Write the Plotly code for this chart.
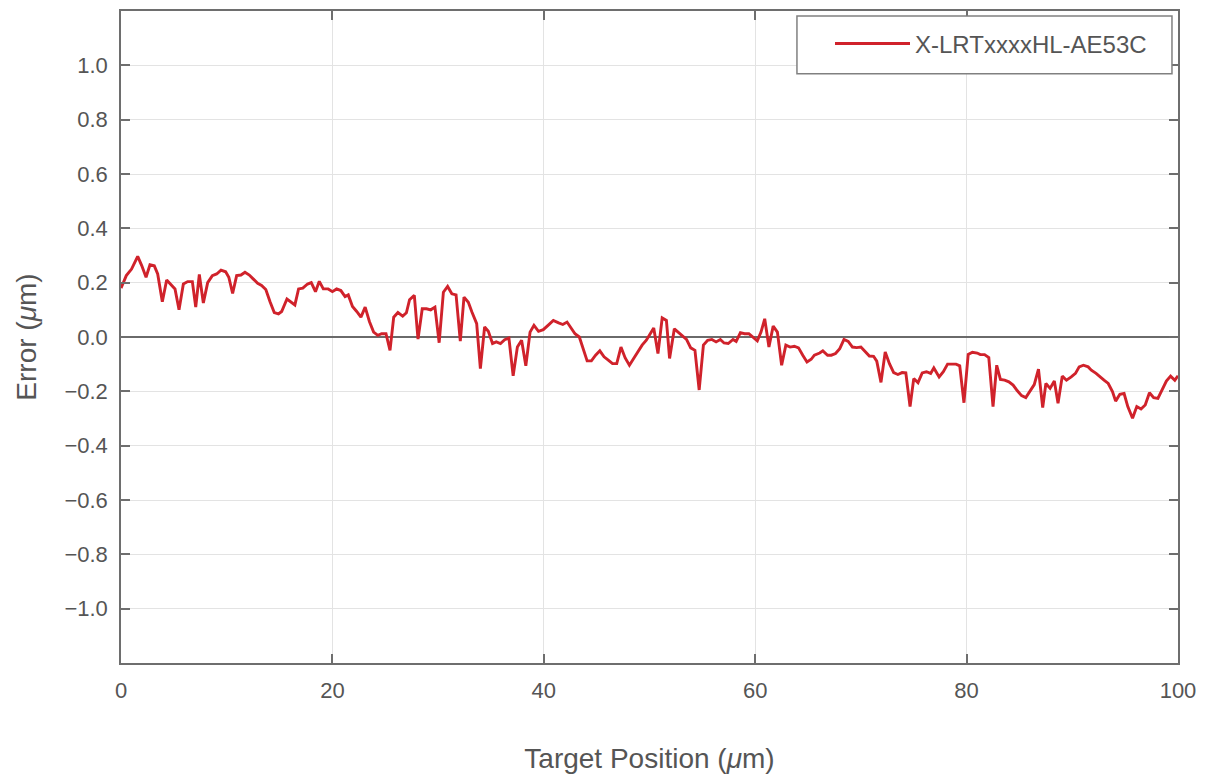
import plotly.graph_objects as go

position_um = [
    0.0, 0.5, 1.0, 1.58, 1.96, 2.37, 2.74, 3.15, 3.47, 3.91, 4.32, 4.8, 5.11, 5.49, 5.9, 6.31, 6.75, 7.07, 7.41, 7.79,
    8.2, 8.64, 9.05, 9.46, 9.9, 10.2, 10.56, 10.94, 11.35, 11.73, 12.14, 12.5, 12.93, 13.3, 13.7, 14.1, 14.5, 14.9, 15.2, 15.7,
    16.1, 16.45, 16.8, 17.2, 17.65, 18.0, 18.4, 18.76, 19.14, 19.6, 20.0, 20.4, 20.8, 21.2, 21.5, 21.9, 22.3, 22.7, 23.1, 23.5,
    23.9, 24.3, 24.66, 25.07, 25.45, 25.8, 26.2, 26.65, 27.0, 27.3, 27.75, 28.1, 28.5, 28.9, 29.3, 29.7, 30.1, 30.5, 30.9, 31.3,
    31.7, 32.1, 32.45, 32.86, 33.2, 33.65, 34.0, 34.4, 34.75, 35.15, 35.5, 35.9, 36.3, 36.7, 37.1, 37.5, 37.9, 38.3, 38.7, 39.07,
    39.5, 39.95, 40.4, 40.9, 41.4, 41.8, 42.2, 42.55, 42.95, 43.36, 43.7, 44.1, 44.5, 44.9, 45.3, 45.7, 46.1, 46.5, 46.9, 47.3,
    47.7, 48.1, 48.5, 48.9, 49.3, 49.7, 50.05, 50.4, 50.8, 51.2, 51.6, 51.9, 52.35, 52.7, 53.1, 53.5, 53.9, 54.3, 54.7, 55.1,
    55.5, 55.9, 56.3, 56.7, 57.05, 57.45, 57.9, 58.2, 58.6, 59.0, 59.4, 59.8, 60.2, 60.55, 60.9, 61.3, 61.7, 62.1, 62.5, 62.9,
    63.3, 63.7, 64.1, 64.5, 64.9, 65.3, 65.6, 66.1, 66.4, 66.85, 67.2, 67.6, 68.0, 68.4, 68.8, 69.2, 69.6, 70.0, 70.4, 70.8,
    71.2, 71.5, 71.9, 72.3, 72.7, 73.1, 73.5, 73.9, 74.25, 74.65, 75.0, 75.4, 75.8, 76.2, 76.6, 76.9, 77.4, 77.8, 78.2, 78.6,
    79.0, 79.35, 79.75, 80.15, 80.55, 81.0, 81.3, 81.7, 82.1, 82.5, 82.85, 83.2, 83.6, 84.0, 84.4, 84.8, 85.2, 85.6, 86.0, 86.4,
    86.8, 87.2, 87.5, 87.9, 88.3, 88.65, 89.05, 89.45, 89.9, 90.3, 90.65, 91.05, 91.5, 91.8, 92.25, 92.6, 93.0, 93.4, 93.8, 94.1,
    94.5, 94.9, 95.25, 95.7, 96.1, 96.5, 96.9, 97.3, 97.7, 98.1, 98.5, 98.9, 99.3, 99.7, 100.0,
]

error_um = [
    0.18, 0.226, 0.25, 0.297, 0.263, 0.22, 0.266, 0.262, 0.232, 0.13, 0.21, 0.19, 0.177, 0.10, 0.195, 0.204, 0.204, 0.11, 0.23, 0.125,
    0.2, 0.226, 0.232, 0.246, 0.24, 0.22, 0.16, 0.226, 0.228, 0.238, 0.228, 0.214, 0.198, 0.19, 0.175, 0.13, 0.09, 0.085, 0.094, 0.14,
    0.128, 0.118, 0.177, 0.18, 0.195, 0.2, 0.167, 0.205, 0.177, 0.177, 0.167, 0.177, 0.171, 0.149, 0.155, 0.112, 0.094, 0.073, 0.11, 0.057,
    0.018, 0.006, 0.012, 0.012, -0.049, 0.073, 0.09, 0.077, 0.089, 0.137, 0.153, -0.008, 0.104, 0.104, 0.1, 0.11, -0.021, 0.165, 0.186, 0.159,
    0.155, -0.015, 0.147, 0.128, 0.092, 0.049, -0.116, 0.037, 0.021, -0.024, -0.018, -0.024, -0.01, -0.004, -0.143, -0.037, -0.012, -0.106, 0.018, 0.043,
    0.021, 0.027, 0.043, 0.061, 0.052, 0.046, 0.055, 0.033, 0.012, 0.0, -0.043, -0.088, -0.088, -0.067, -0.051, -0.073, -0.085, -0.098, -0.098, -0.037,
    -0.077, -0.104, -0.079, -0.055, -0.03, -0.012, 0.012, 0.033, -0.061, 0.07, 0.061, -0.079, 0.03, 0.018, 0.004, -0.009, -0.04, -0.049, -0.195, -0.03,
    -0.012, -0.009, -0.018, -0.009, -0.022, -0.024, -0.009, -0.016, 0.016, 0.012, 0.012, 0.0, -0.014, 0.018, 0.067, -0.037, 0.04, 0.018, -0.104, -0.03,
    -0.037, -0.034, -0.04, -0.067, -0.092, -0.082, -0.067, -0.059, -0.051, -0.067, -0.067, -0.061, -0.043, -0.009, -0.016, -0.037, -0.039, -0.037, -0.052, -0.07,
    -0.071, -0.089, -0.167, -0.055, -0.098, -0.131, -0.138, -0.131, -0.132, -0.256, -0.153, -0.168, -0.132, -0.128, -0.134, -0.114, -0.147, -0.128, -0.1, -0.1,
    -0.1, -0.106, -0.242, -0.064, -0.056, -0.059, -0.065, -0.065, -0.076, -0.256, -0.104, -0.156, -0.159, -0.165, -0.177, -0.198, -0.216, -0.223, -0.201, -0.175,
    -0.118, -0.26, -0.171, -0.189, -0.162, -0.244, -0.144, -0.159, -0.147, -0.134, -0.11, -0.104, -0.11, -0.122, -0.134, -0.147, -0.159, -0.171, -0.201, -0.236,
    -0.211, -0.208, -0.256, -0.299, -0.256, -0.265, -0.25, -0.205, -0.223, -0.226, -0.195, -0.162, -0.144, -0.159, -0.143,
]

series_name = "X-LRTxxxxHL-AE53C"
x_ticks = [0, 20, 40, 60, 80, 100]
y_ticks = [-1.0, -0.8, -0.6, -0.4, -0.2, 0.0, 0.2, 0.4, 0.6, 0.8, 1.0]

TEXT = "#555555"
AXIS = "#6e6e6e"
GRID = "#e3e3e3"
FONT = "Liberation Sans, Arial, sans-serif"

fig = go.Figure()
fig.add_trace(go.Scatter(
    x=position_um, y=error_um, mode="lines", name=series_name,
    line=dict(color="#d0222b", width=2.9),
))

fig.update_layout(
    width=1203, height=772,
    margin=dict(l=113, r=33, t=1, b=117),
    paper_bgcolor="white", plot_bgcolor="white",
    font=dict(family=FONT, color=TEXT, size=22),
    showlegend=True,
    legend=dict(
        x=0.9754, y=0.9495, xanchor="right", yanchor="middle",
        bgcolor="rgba(0,0,0,0)", borderwidth=0,
        font=dict(size=24, color=TEXT),
        itemwidth=75,
    ),
    shapes=[dict(
        type="rect", xref="paper", yref="paper",
        x0=0.6395, x1=0.9943, y0=0.9037, y1=0.9924,
        line=dict(color="#808080", width=1.5), fillcolor="white", layer="above",
    )],
)

fig.update_xaxes(
    range=[0, 100], tickvals=x_ticks,
    showgrid=True, gridcolor=GRID, gridwidth=1,
    showline=True, linecolor=AXIS, linewidth=1.5, mirror="ticks",
    ticks="inside", ticklen=9, tickcolor=AXIS, tickwidth=1.5,
    ticklabelstandoff=7,
    zeroline=False,
    tickfont=dict(size=22, color=TEXT),
    title=dict(text="Target Position (<i>μ</i>m)", font=dict(size=28, color=TEXT), standoff=46),
)
fig.update_yaxes(
    range=[-1.2, 1.2], tickvals=y_ticks, tickformat=".1f",
    showgrid=True, gridcolor=GRID, gridwidth=1,
    showline=True, linecolor=AXIS, linewidth=1.5, mirror="ticks",
    ticks="inside", ticklen=9, tickcolor=AXIS, tickwidth=1.5,
    ticklabelstandoff=7,
    zeroline=True, zerolinecolor="#6a6a6a", zerolinewidth=1.5,
    tickfont=dict(size=22, color=TEXT),
    title=dict(text="Error (<i>μ</i>m)", font=dict(size=28, color=TEXT), standoff=20),
)

fig.write_html("out.html")
